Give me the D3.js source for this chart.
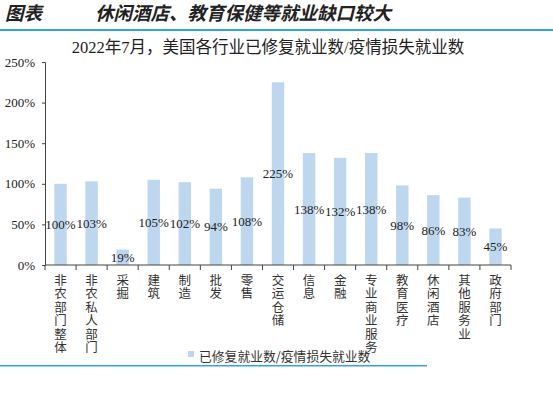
<!DOCTYPE html>
<html>
<head>
<meta charset="utf-8">
<script src="https://cdn.jsdelivr.net/npm/d3@7"></script>
<style>
  body { margin: 0; background: #fff; }
  svg { display: block; }
</style>
</head>
<body>
<div id="container"></div>
<script>
// chart data
let categories = ["非农部门整体", "非农私人部门", "采掘", "建筑", "制造", "批发", "零售", "交运仓储",
                  "信息", "金融", "专业商业服务", "教育医疗", "休闲酒店", "其他服务业", "政府部门"];
let values = [100, 103, 19, 105, 102, 94, 108, 225, 138, 132, 138, 98, 86, 83, 45];
let yTicks = [0, 50, 100, 150, 200, 250];
let titleText = "图表";
let headlineText = "休闲酒店、教育保健等就业缺口较大";
let subtitleText = "2022年7月，美国各行业已修复就业数/疫情损失就业数";
let legendText = "已修复就业数/疫情损失就业数";

let w = 553;
let h = 395;
let margin = { left: 45, right: 42, top: 62, bottom: 130 };
let serif = "'Liberation Serif', 'Noto Sans CJK SC', serif";
let cjk = "'Noto Sans CJK SC', sans-serif";
let barColor = "#bdd7ee";
let lineColor = "#2ea7e0";

let svg = d3.select("#container")
  .append("svg")
  .attr("width", w)
  .attr("height", h);

// header
svg.append("text")
  .attr("x", 5).attr("y", 20)
  .style("font-family", cjk).style("font-size", "18.5px")
  .style("font-weight", "bold").style("font-style", "italic")
  .attr("fill", "#222")
  .text(titleText);
svg.append("text")
  .attr("x", 95).attr("y", 20)
  .style("font-family", cjk).style("font-size", "18.5px")
  .style("font-weight", "bold").style("font-style", "italic")
  .attr("fill", "#222")
  .text(headlineText);
svg.append("rect")
  .attr("x", 0).attr("y", 29).attr("width", w).attr("height", 2)
  .attr("fill", lineColor);

svg.append("text")
  .attr("x", 268).attr("y", 53)
  .attr("text-anchor", "middle")
  .style("font-family", serif).style("font-size", "16.5px")
  .attr("fill", "#222")
  .text(subtitleText);

// scales
let x = d3.scaleBand()
  .domain(categories)
  .range([margin.left, w - margin.right])
  .paddingInner(0.6)
  .paddingOuter(0.3);

let y = d3.scaleLinear()
  .domain([0, 250])
  .range([h - margin.bottom, margin.top]);

// bars
svg.append("g").selectAll("rect")
  .data(values)
  .enter()
  .append("rect")
    .attr("x", (d, i) => x(categories[i]))
    .attr("y", d => y(d))
    .attr("width", x.bandwidth())
    .attr("height", d => y(0) - y(d))
    .attr("fill", barColor);

// value labels in the middle of each bar
svg.append("g").selectAll("text")
  .data(values)
  .enter()
  .append("text")
    .attr("x", (d, i) => x(categories[i]) + x.bandwidth() / 2)
    .attr("y", d => y(d / 2))
    .attr("dy", "0.35em")
    .attr("text-anchor", "middle")
    .style("font-family", serif).style("font-size", "13px")
    .attr("fill", "#222")
    .text(d => d + "%");

// y axis
let yAxis = svg.append("g")
  .attr("transform", `translate(${margin.left},0)`)
  .call(d3.axisLeft(y).tickValues(yTicks).tickSize(3).tickFormat(d => d + "%"));
yAxis.select(".domain").attr("stroke", "#444");
yAxis.selectAll(".tick line").attr("stroke", "#444");
yAxis.selectAll(".tick text")
  .attr("x", -10)
  .style("font-family", serif).style("font-size", "13px")
  .attr("fill", "#222");

// x axis: ticks at category boundaries
let boundaries = d3.range(categories.length + 1).map(i => margin.left + i * (w - margin.left - margin.right) / categories.length);
let xAxisG = svg.append("g");
xAxisG.append("line")
  .attr("x1", margin.left).attr("x2", w - margin.right)
  .attr("y1", y(0)).attr("y2", y(0))
  .attr("stroke", "#444");
xAxisG.selectAll(".bt")
  .data(boundaries)
  .enter()
  .append("line")
    .attr("x1", d => d).attr("x2", d => d)
    .attr("y1", y(0)).attr("y2", y(0) + 5)
    .attr("stroke", "#444");

// vertical category labels (one char per line)
svg.append("g").selectAll("text")
  .data(categories)
  .enter()
  .append("text")
    .attr("transform", d => `translate(${x(d) + x.bandwidth() / 2},274)`)
    .style("writing-mode", "vertical-rl")
    .style("text-orientation", "upright")
    .style("letter-spacing", "0.9px")
    .style("font-family", cjk).style("font-size", "12.5px")
    .attr("fill", "#333")
    .text(d => d);

// legend
svg.append("rect")
  .attr("x", 188).attr("y", 351).attr("width", 6).attr("height", 6)
  .attr("fill", barColor);
svg.append("text")
  .attr("x", 199).attr("y", 360.5)
  .style("font-family", cjk).style("font-size", "12.8px")
  .attr("fill", "#333")
  .text(legendText);

svg.append("rect")
  .attr("x", 0).attr("y", 365).attr("width", 427).attr("height", 1.5)
  .attr("fill", lineColor);
</script>
</body>
</html>
